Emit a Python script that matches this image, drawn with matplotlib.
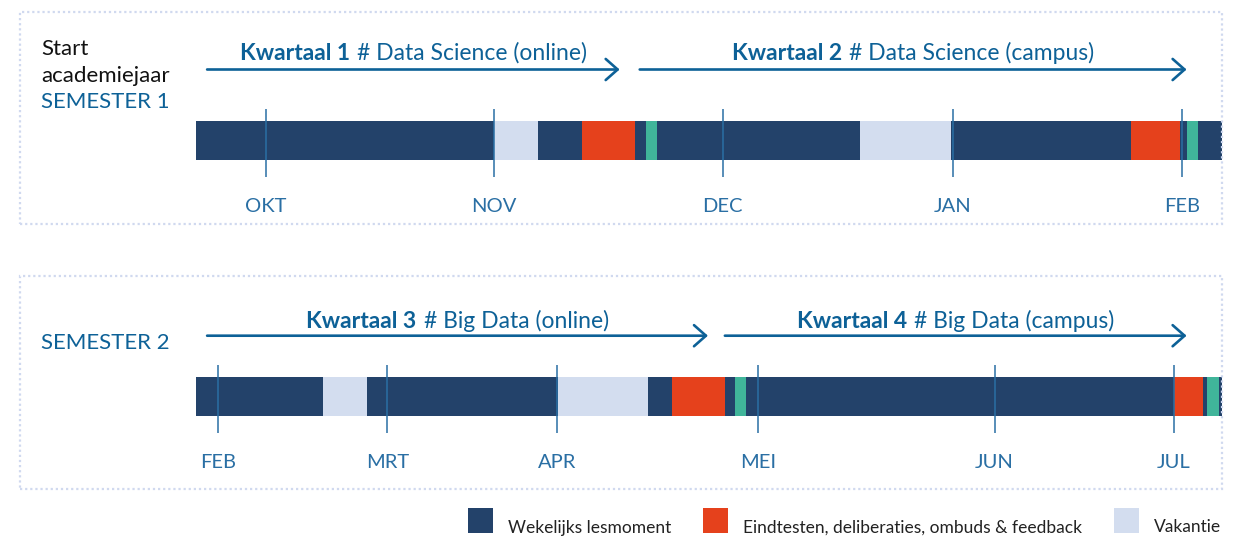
import matplotlib.pyplot as plt
from matplotlib.patches import Rectangle, Patch
from matplotlib.legend_handler import HandlerPatch
from matplotlib.transforms import blended_transform_factory

plt.rcParams['font.family'] = ['Lato', 'DejaVu Sans']

# kleuren per soort week
colors = {'les': '#23426a', 'eind': '#e5411c', 'vak': '#d3ddef', 'extra': '#40b59a'}
BLUE = '#0d6197'
TICKBLUE = '#2a6fa4'
DOTS = '#d0d9ef'

# semester 1 (positie in weken vanaf begin van de balk)
s1_edges = [0, 5.63, 6.47, 7.30, 8.30, 8.51, 8.71, 12.55, 14.27, 17.67, 18.60, 18.73, 18.94, 19.40]
s1_kinds = ['les', 'vak', 'les', 'eind', 'les', 'extra', 'les', 'vak', 'les', 'eind', 'les', 'extra', 'les']
s1_month_pos = [1.32, 5.63, 9.96, 14.31, 18.64]
s1_month_lab = ['OKT', 'NOV', 'DEC', 'JAN', 'FEB']
s1_q_bold = ['Kwartaal 1', 'Kwartaal 2']
s1_q_text = ['# Data Science (online)', '# Data Science (campus)']
s1_q_start = [0.21, 8.39]
s1_q_end = [8.01, 18.73]

# semester 2
s2_edges = [0, 2.40, 3.23, 6.84, 8.54, 9.00, 10.00, 10.19, 10.40, 18.50, 19.04, 19.12, 19.34, 19.40]
s2_kinds = ['les', 'vak', 'les', 'vak', 'les', 'eind', 'les', 'extra', 'les', 'eind', 'les', 'extra', 'les']
s2_month_pos = [0.41, 3.62, 6.82, 10.63, 15.10, 18.49]
s2_month_lab = ['FEB', 'MRT', 'APR', 'MEI', 'JUN', 'JUL']
s2_q_bold = ['Kwartaal 3', 'Kwartaal 4']
s2_q_text = ['# Big Data (online)', '# Big Data (campus)']
s2_q_start = [0.21, 10.00]
s2_q_end = [9.68, 18.73]

legend_kinds = ['les', 'eind', 'vak']
legend_labels = ['Wekelijks lesmoment', 'Eindtesten, deliberaties, ombuds & feedback', 'Vakantie']

W, H = 1250, 536
fig = plt.figure(figsize=(W / 100, H / 100), dpi=100)
renderer = fig.canvas.get_renderer()


def fx(px):
    return px / W


def fy(py):
    return 1 - py / H


def semester(top_px, edges, kinds, month_pos, month_lab, q_bold, q_text, q_start, q_end, arrow_px, title_px):
    ax = fig.add_axes([fx(196), fy(top_px + 86), fx(1222) - fx(196), 86 / H])
    ax.set_xlim(edges[0], edges[-1])
    ax.set_ylim(0, 1)
    lefts = edges[:-1]
    widths = [b - a for a, b in zip(edges[:-1], edges[1:])]
    ax.barh(0.529, widths, left=lefts, height=0.454, color=[colors[k] for k in kinds], linewidth=0)
    ax.vlines(month_pos, 0.105, 0.895, color=TICKBLUE, lw=1.1, zorder=3)
    ax.set_xticks(month_pos, month_lab)
    ax.tick_params(axis='x', length=0, pad=18.5, labelsize=14.5, labelcolor=TICKBLUE)
    for lab in ax.get_xticklabels():
        lab.set_va('baseline')
    ax.set_yticks([])
    for s in ax.spines.values():
        s.set_visible(False)

    tr = blended_transform_factory(ax.transData, fig.transFigure)
    for b, t, x0, x1 in zip(q_bold, q_text, q_start, q_end):
        ax.annotate('', xy=(x1, fy(arrow_px)), xytext=(x0, fy(arrow_px)),
                    xycoords=tr, textcoords=tr, annotation_clip=False,
                    arrowprops=dict(arrowstyle='->,head_length=0.86,head_width=0.76',
                                    color=BLUE, lw=1.9, shrinkA=0, shrinkB=0,
                                    mutation_scale=10))
        tb = fig.text(0, 0, b, fontsize=16.5, weight='bold', color=BLUE, va='baseline', ha='left')
        tn = fig.text(0, 0, t, fontsize=16.5, color=BLUE, va='baseline', ha='left')
        wb = tb.get_window_extent(renderer).width
        wn = tn.get_window_extent(renderer).width
        gap = 7
        cx = tr.transform(((x0 + x1) / 2, 0))[0]
        left = cx - (wb + gap + wn) / 2
        tb.set_position((left / W, fy(title_px)))
        tn.set_position(((left + wb + gap) / W, fy(title_px)))
    return ax


# gestippelde kaders
for y0, y1 in [(12, 224), (276, 489)]:
    fig.add_artist(Rectangle((fx(20), fy(y1)), fx(1222) - fx(20), (y1 - y0) / H,
                             transform=fig.transFigure, fill=False, ec=DOTS,
                             lw=1.6, ls=(0, (1, 1.3))))

semester(100, s1_edges, s1_kinds, s1_month_pos, s1_month_lab,
         s1_q_bold, s1_q_text, s1_q_start, s1_q_end, 69.5, 60)
semester(356, s2_edges, s2_kinds, s2_month_pos, s2_month_lab,
         s2_q_bold, s2_q_text, s2_q_start, s2_q_end, 335.7, 327.5)

fig.text(fx(41), fy(55), 'Start', fontsize=16, color='#111111', va='baseline')
fig.text(fx(41), fy(81.7), 'academiejaar', fontsize=16, color='#111111', va='baseline')
fig.text(fx(41), fy(108.3), 'SEMESTER 1', fontsize=16, color=BLUE, va='baseline')
fig.text(fx(41), fy(349), 'SEMESTER 2', fontsize=16, color=BLUE, va='baseline')


# vierkantje van 18pt dat net onder de basislijn begint
def square(legend, orig_handle, xdescent, ydescent, width, height, fontsize):
    return Rectangle((-xdescent, -0.7), 18, 18)


handles = [Patch(facecolor=colors[k], label=l) for k, l in zip(legend_kinds, legend_labels)]
fig.legend(handles=handles, loc='lower right', bbox_to_anchor=(fx(1221), fy(535.5)),
           ncol=3, frameon=False, fontsize=12.5, labelcolor='#222222',
           handlelength=1.44, handleheight=0.7, handletextpad=0.85, columnspacing=1.85,
           borderpad=0, borderaxespad=0,
           handler_map={Patch: HandlerPatch(patch_func=square)})

fig.savefig('out.png', dpi=100, facecolor='white')
